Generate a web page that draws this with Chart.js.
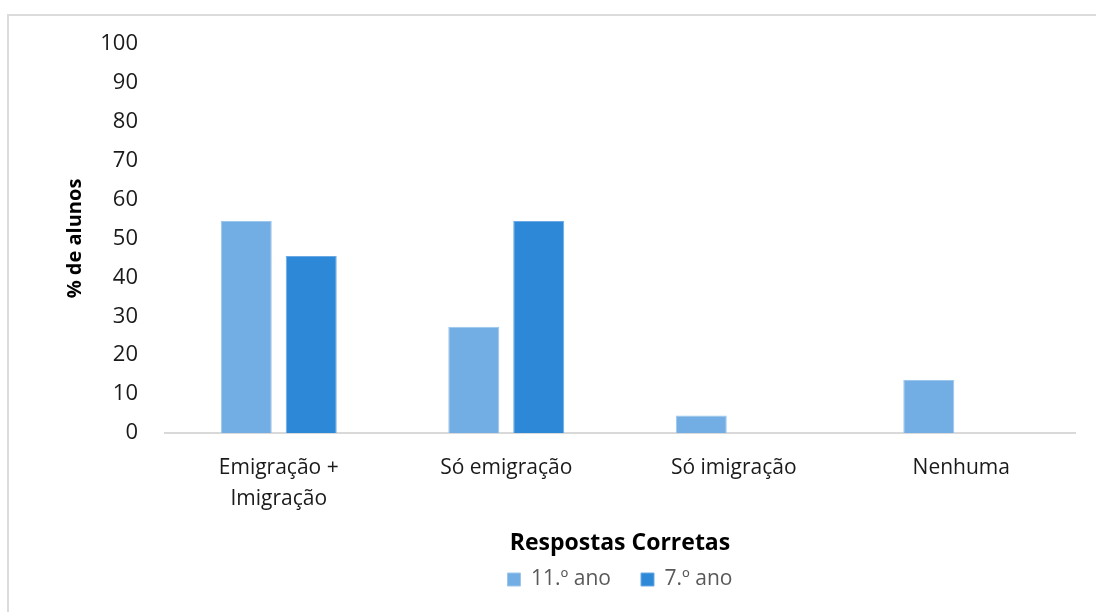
<!DOCTYPE html>
<html>
<head>
<meta charset="utf-8">
<script src="https://cdn.jsdelivr.net/npm/chart.js@4.4.1/dist/chart.umd.min.js"></script>
<style>
  html, body { margin: 0; padding: 0; background: #fff; }
  #wrap { position: relative; width: 1096px; height: 612px; overflow: hidden; }
  #frame { position: absolute; left: 7px; top: 14px; width: 1200px; height: 700px;
           border-top: 2px solid #dcdcdc; border-left: 2px solid #dcdcdc; }
  canvas { position: absolute; left: 0; top: 0; }
</style>
</head>
<body>
<div id="wrap">
  <div id="frame"></div>
  <canvas id="c" width="1096" height="612"></canvas>
</div>
<script>
const categories = [["Emigração +", "Imigração"], "Só emigração", "Só imigração", "Nenhuma"];
const seriesNames = ["11.º ano", "7.º ano"];
const values11 = [54.5, 27.3, 4.5, 13.6];
const values7 = [45.5, 54.5, 0, 0];
const yTicks = [0, 10, 20, 30, 40, 50, 60, 70, 80, 90, 100];
const yTitle = "% de alunos";
const xTitle = "Respostas Corretas";

const FONT = "'Open Sans', 'Liberation Sans', sans-serif";

const centerLegend = {
  id: 'centerLegend',
  afterLayout(chart) {
    if (chart.legend) {
      chart.legend.left = chart.chartArea.left;
      chart.legend.right = chart.chartArea.right;
      if (chart.legend.adjustHitBoxes) chart.legend.adjustHitBoxes();
    }
  }
};

new Chart(document.getElementById('c'), {
  type: 'bar',
  data: {
    labels: categories,
    datasets: [
      { label: seriesNames[0], data: values11, backgroundColor: '#72aee3', borderColor: '#9cc6ec', borderWidth: 1,
        categoryPercentage: 0.571, barPercentage: 0.785 },
      { label: seriesNames[1], data: values7, backgroundColor: '#2d88d8', borderColor: '#6aa9e3', borderWidth: 1,
        categoryPercentage: 0.571, barPercentage: 0.785 }
    ]
  },
  plugins: [centerLegend],
  options: {
    responsive: false,
    devicePixelRatio: 1,
    animation: false,
    layout: { padding: { left: 59, top: 44, right: 21, bottom: 12 } },
    plugins: {
      tooltip: { enabled: false },
      legend: {
        position: 'bottom',
        labels: {
          boxWidth: 13, boxHeight: 13, padding: 30,
          color: '#595959',
          font: { family: FONT, size: 21 }
        }
      }
    },
    scales: {
      x: {
        grid: { display: false, drawTicks: false },
        border: { display: true, color: '#d9d9d9', width: 2 },
        ticks: { color: '#1a1a1a', padding: 19, maxRotation: 0, autoSkip: false,
                 font: { family: FONT, size: 21, lineHeight: 1.5 } },
        title: { display: true, text: xTitle, color: '#000',
                 font: { family: FONT, size: 23, weight: 'bold', lineHeight: 1.2 },
                 padding: { top: 0, bottom: -18 } },
        afterFit: (s) => { s.height = 106; }
      },
      y: {
        min: 0, max: 100,
        afterBuildTicks: (s) => { s.ticks = yTicks.map(v => ({ value: v })); },
        grid: { display: false, drawTicks: false },
        border: { display: false },
        ticks: { color: '#1a1a1a', padding: 27, font: { family: FONT, size: 22 } },
        title: { display: true, text: yTitle, color: '#000',
                 font: { family: FONT, size: 20, weight: 'bold', lineHeight: 1.2 },
                 padding: { top: 4, bottom: 4 } },
        afterFit: (s) => { s.width = 106; }
      }
    }
  }
});
</script>
</body>
</html>
